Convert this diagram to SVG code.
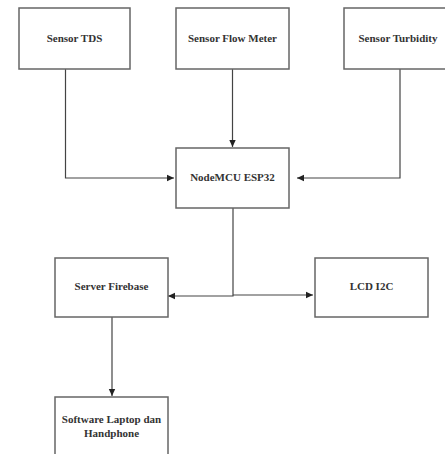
<svg xmlns="http://www.w3.org/2000/svg" width="445" height="454" viewBox="0 0 445 454">
<style>
.box{fill:#fff;stroke:#666;stroke-width:1.5}
.t{font-family:"Liberation Serif","Times New Roman",serif;font-size:11px;font-weight:bold;fill:#333;text-anchor:middle}
.c{fill:none;stroke:#444;stroke-width:1.2}
</style>
<defs>
<marker id="ah" markerWidth="8" markerHeight="8" refX="7" refY="4" orient="auto" markerUnits="userSpaceOnUse">
<path d="M0,0.8 L7,4 L0,7.2 z" fill="#222"/>
</marker>
</defs>
<rect width="445" height="454" fill="#fff"/>
<g id="connectors">
<path class="c" d="M65.5,69 V178 H174" marker-end="url(#ah)"/>
<path class="c" d="M232.5,69 V147" marker-end="url(#ah)"/>
<path class="c" d="M400,69 V178 H297" marker-end="url(#ah)"/>
<path class="c" d="M233,208 V296 H168" marker-end="url(#ah)"/>
<path class="c" d="M233,295 H313" marker-end="url(#ah)"/>
<path class="c" d="M112,317 V396" marker-end="url(#ah)"/>
</g>
<g id="sensor-tds"><rect class="box" x="19" y="8" width="111" height="61"/><text class="t" x="74.5" y="42">Sensor TDS</text></g>
<g id="sensor-flow"><rect class="box" x="176" y="8" width="113" height="61"/><text class="t" x="232.5" y="42">Sensor Flow Meter</text></g>
<g id="sensor-turbidity"><rect class="box" x="344" y="8" width="113" height="61"/><text class="t" x="398" y="42">Sensor Turbidity</text></g>
<g id="nodemcu"><rect class="box" x="176" y="148" width="113" height="60"/><text class="t" x="232.5" y="181">NodeMCU ESP32</text></g>
<g id="server-firebase"><rect class="box" x="55" y="258" width="113" height="59"/><text class="t" x="111.5" y="290">Server Firebase</text></g>
<g id="lcd"><rect class="box" x="315" y="258" width="113" height="59"/><text class="t" x="371.5" y="290">LCD I2C</text></g>
<g id="software"><rect class="box" x="55" y="397" width="113" height="62"/><text class="t" x="111.5" y="423">Software Laptop dan</text><text class="t" x="111.5" y="437">Handphone</text></g>
</svg>
